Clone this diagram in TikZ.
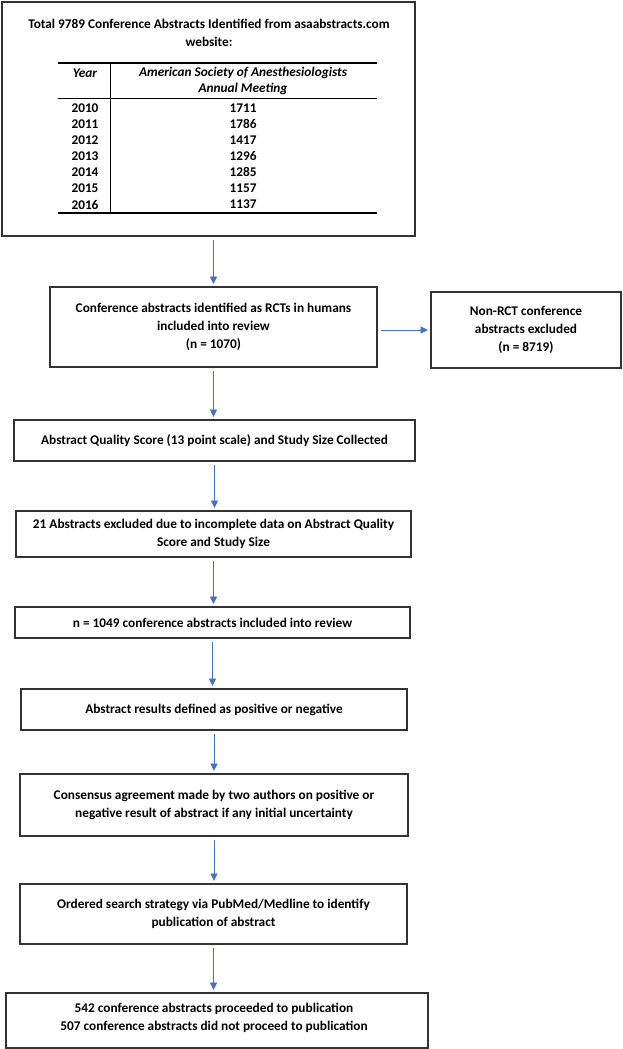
\documentclass[tikz,border=0pt]{standalone}
\usepackage{fontspec}
\setmainfont{Carlito}
\usetikzlibrary{arrows.meta}
\definecolor{arrblue}{HTML}{4472C4}
\definecolor{boxline}{HTML}{333333}
\begin{document}
\begin{tikzpicture}[x=1pt,y=-1pt,
  box/.style={draw=boxline, line width=1.1pt, inner sep=0pt, outer sep=0pt},
  txt/.style={align=center, inner sep=0pt, font=\bfseries\fontsize{13.3}{17.7}\selectfont},
  tab/.style={align=center, inner sep=0pt, font=\bfseries\fontsize{13.3}{16}\selectfont},
  arr/.style={draw=arrblue, line width=0.9pt, -{Triangle[width=7pt,length=7.5pt]}, shorten <=4pt, shorten >=3pt}]
\path[use as bounding box, fill=white] (0,0) rectangle (622,1049);

% box 1 with table
\node[box, minimum width=413pt, minimum height=234pt] (b1) at (208.5,119) {};
\node[txt] (title) at (209,33) {Total 9789 Conference Abstracts Identified from asaabstracts.com\\website:};
\draw[line width=1.8pt] (58,63) -- (377,63);
\draw[line width=0.9pt] (58,98) -- (377,98);
\draw[line width=1.8pt] (58,213) -- (377,213);
\draw[line width=0.9pt] (110,63) -- (110,213);
\node[tab, font=\bfseries\itshape\fontsize{13.3}{16}\selectfont] (hy) at (85,73) {Year};
\node[tab, font=\bfseries\itshape\fontsize{13.3}{16}\selectfont] (hm) at (243,81) {American Society of Anesthesiologists\\Annual Meeting};
\foreach \yr/\n [count=\i from 0] in {2010/1711,2011/1786,2012/1417,2013/1296,2014/1285,2015/1157,2016/1137}{
  \node[tab] (y\yr) at (85,108+16.1*\i) {\yr};
  \node[tab] (v\yr) at (243,108+16.1*\i) {\n};
}

% boxes
\node[box, minimum width=327pt, minimum height=80pt] (b2) at (213.5,327) {};
\node[txt] (t2) at (b2) {Conference abstracts identified as RCTs in humans\\included into review\\(n = 1070)};
\node[box, minimum width=190pt, minimum height=76pt] (b3) at (526,330) {};
\node[txt] (t3) at (b3) {Non-RCT conference\\abstracts excluded\\(n = 8719)};
\node[box, minimum width=401pt, minimum height=41pt] (b4) at (214.5,440.5) {};
\node[txt] (t4) at (b4) {Abstract Quality Score (13 point scale) and Study Size Collected};
\node[box, minimum width=395pt, minimum height=46pt] (b5) at (213.5,534) {};
\node[txt] (t5) at (b5) {21 Abstracts excluded due to incomplete data on Abstract Quality\\Score and Study Size};
\node[box, minimum width=395pt, minimum height=31pt] (b6) at (212.5,622.5) {};
\node[txt] (t6) at (b6) {n = 1049 conference abstracts included into review};
\node[box, minimum width=386pt, minimum height=41pt] (b7) at (214,709.5) {};
\node[txt] (t7) at (b7) {Abstract results defined as positive or negative};
\node[box, minimum width=388pt, minimum height=62pt] (b8) at (214,805) {};
\node[txt] (t8) at (b8) {Consensus agreement made by two authors on positive or\\negative result of abstract if any initial uncertainty};
\node[box, minimum width=387pt, minimum height=60pt] (b9) at (213.5,914) {};
\node[txt] (t9) at (b9) {Ordered search strategy via PubMed/Medline to identify\\publication of abstract};
\node[box, minimum width=422pt, minimum height=55pt] (b10) at (217,1020.5) {};
\node[txt] (t10) at (214,1018) {542 conference abstracts proceeded to publication\\507 conference abstracts did not proceed to publication};

% arrows
\draw[arr] (b1.south -| b2.north) -- (b2.north);
\draw[arr] (b2.east |- b3.west) -- (b3.west);
\draw[arr] (b2.south) -- (b2.south |- b4.north);
\draw[arr] (b4.south) -- (b4.south |- b5.north);
\draw[arr] (b5.south) -- (b5.south |- b6.north);
\draw[arr] (b6.south) -- (b6.south |- b7.north);
\draw[arr] (b7.south) -- (b7.south |- b8.north);
\draw[arr] (b8.south) -- (b8.south |- b9.north);
\draw[arr] (b9.south) -- (b9.south |- b10.north);
\end{tikzpicture}
\end{document}
